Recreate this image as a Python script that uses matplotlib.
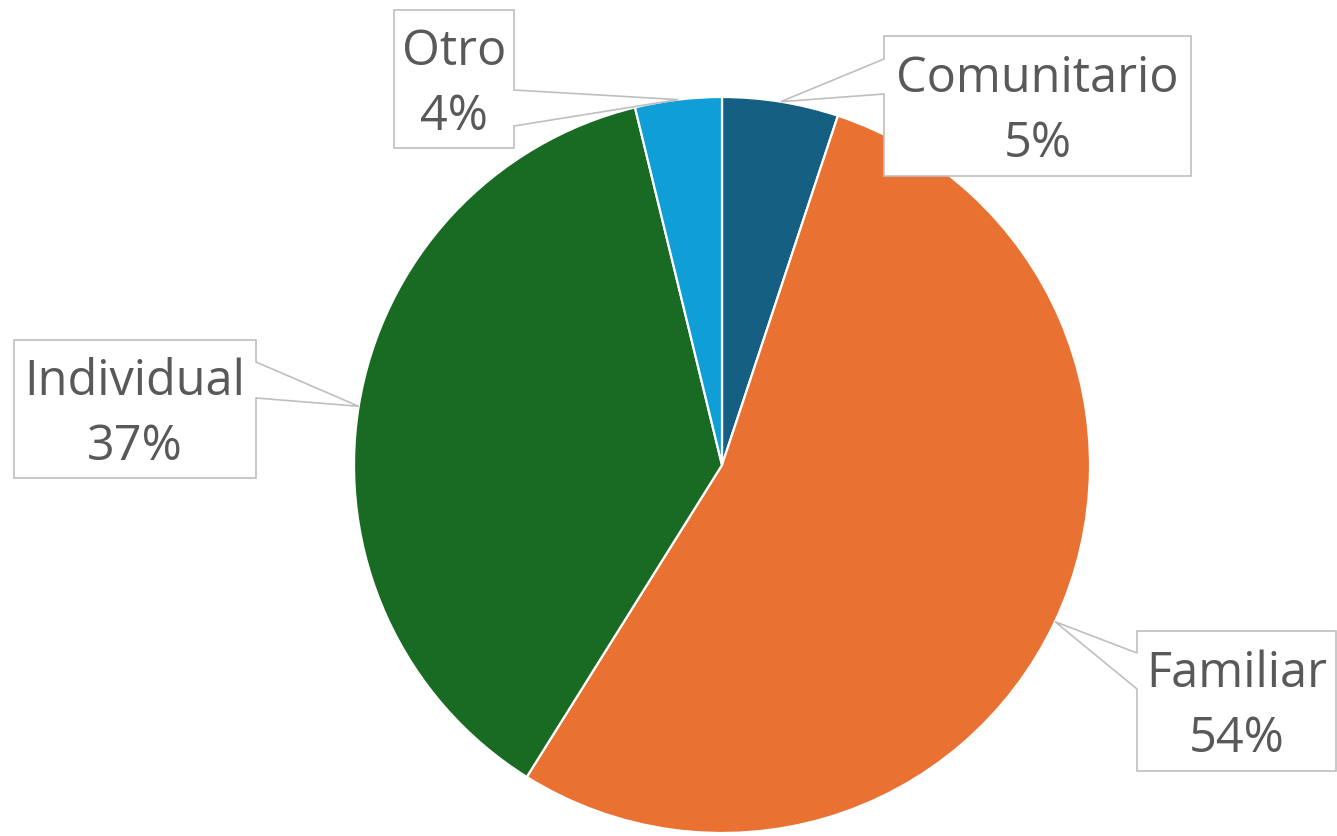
import numpy as np
import matplotlib
matplotlib.use('Agg')
import matplotlib.pyplot as plt
from matplotlib.patches import Polygon

# data
labels = ['Comunitario', 'Familiar', 'Individual', 'Otro']
values = [5.1, 53.8, 37.3, 3.8]
colors = ['#156082', '#E97132', '#196B24', '#0F9ED5']

W, H = 1337, 836

# callout boxes in pixels (x0, x1, y_top, y_bottom, notch side, notch top, notch bottom)
boxes = {
	'Comunitario': (884, 1191, 36, 176, 'left', 59, 94),
	'Familiar': (1137, 1336, 631, 771, 'left', 653, 689),
	'Individual': (14, 256, 340, 478, 'right', 362, 398),
	'Otro': (394, 514, 10, 148, 'right', 90, 126),
}


def px(x, y):
	''' pixel (top-left origin) to figure fraction'''
	return x / W, 1 - y / H


def main():
	''' main function'''

	fig = plt.figure(figsize=(W / 100, H / 100), dpi=100)
	ax = fig.add_axes([354 / W, (H - 833) / H, 736 / W, 736 / H])

	wedges, _ = ax.pie(values, colors=colors, startangle=90, counterclock=False,
			radius=1, wedgeprops=dict(edgecolor='white', linewidth=1.6))
	ax.set_xlim(-1, 1)
	ax.set_ylim(-1, 1)
	ax.set_aspect('equal')
	ax.axis('off')

	total = sum(values)
	for w, lab, v in zip(wedges, labels, values):
		# leader points at the middle of the slice's outer edge
		mid = np.deg2rad((w.theta1 + w.theta2) / 2)
		disp = ax.transData.transform((np.cos(mid), np.sin(mid)))
		ax_x, ax_y = disp[0], H - disp[1]

		x0, x1, yt, yb, side, n0, n1 = boxes[lab]
		if side == 'right':
			pts = [(x0, yt), (x1, yt), (x1, n0), (ax_x, ax_y), (x1, n1), (x1, yb), (x0, yb)]
		else:
			pts = [(x0, yt), (x1, yt), (x1, yb), (x0, yb), (x0, n1), (ax_x, ax_y), (x0, n0)]
		poly = Polygon([px(*p) for p in pts], closed=True, transform=fig.transFigure,
				facecolor='white', edgecolor='#BFBFBF', linewidth=1.2, zorder=5)
		fig.add_artist(poly)

		cx = (x0 + x1) / 2
		cy = (yt + yb) / 2
		pct = '{:.0f}%'.format(100 * v / total)
		fig.text(*px(cx, cy - 27), lab, ha='center', va='center', fontsize=35,
				color='#595959', family='Open Sans', zorder=6)
		fig.text(*px(cx, cy + 38), pct, ha='center', va='center', fontsize=35,
				color='#595959', family='Open Sans', zorder=6)

	plt.savefig('out.png', dpi=100)
	plt.close()


if __name__ == '__main__':
	main()
